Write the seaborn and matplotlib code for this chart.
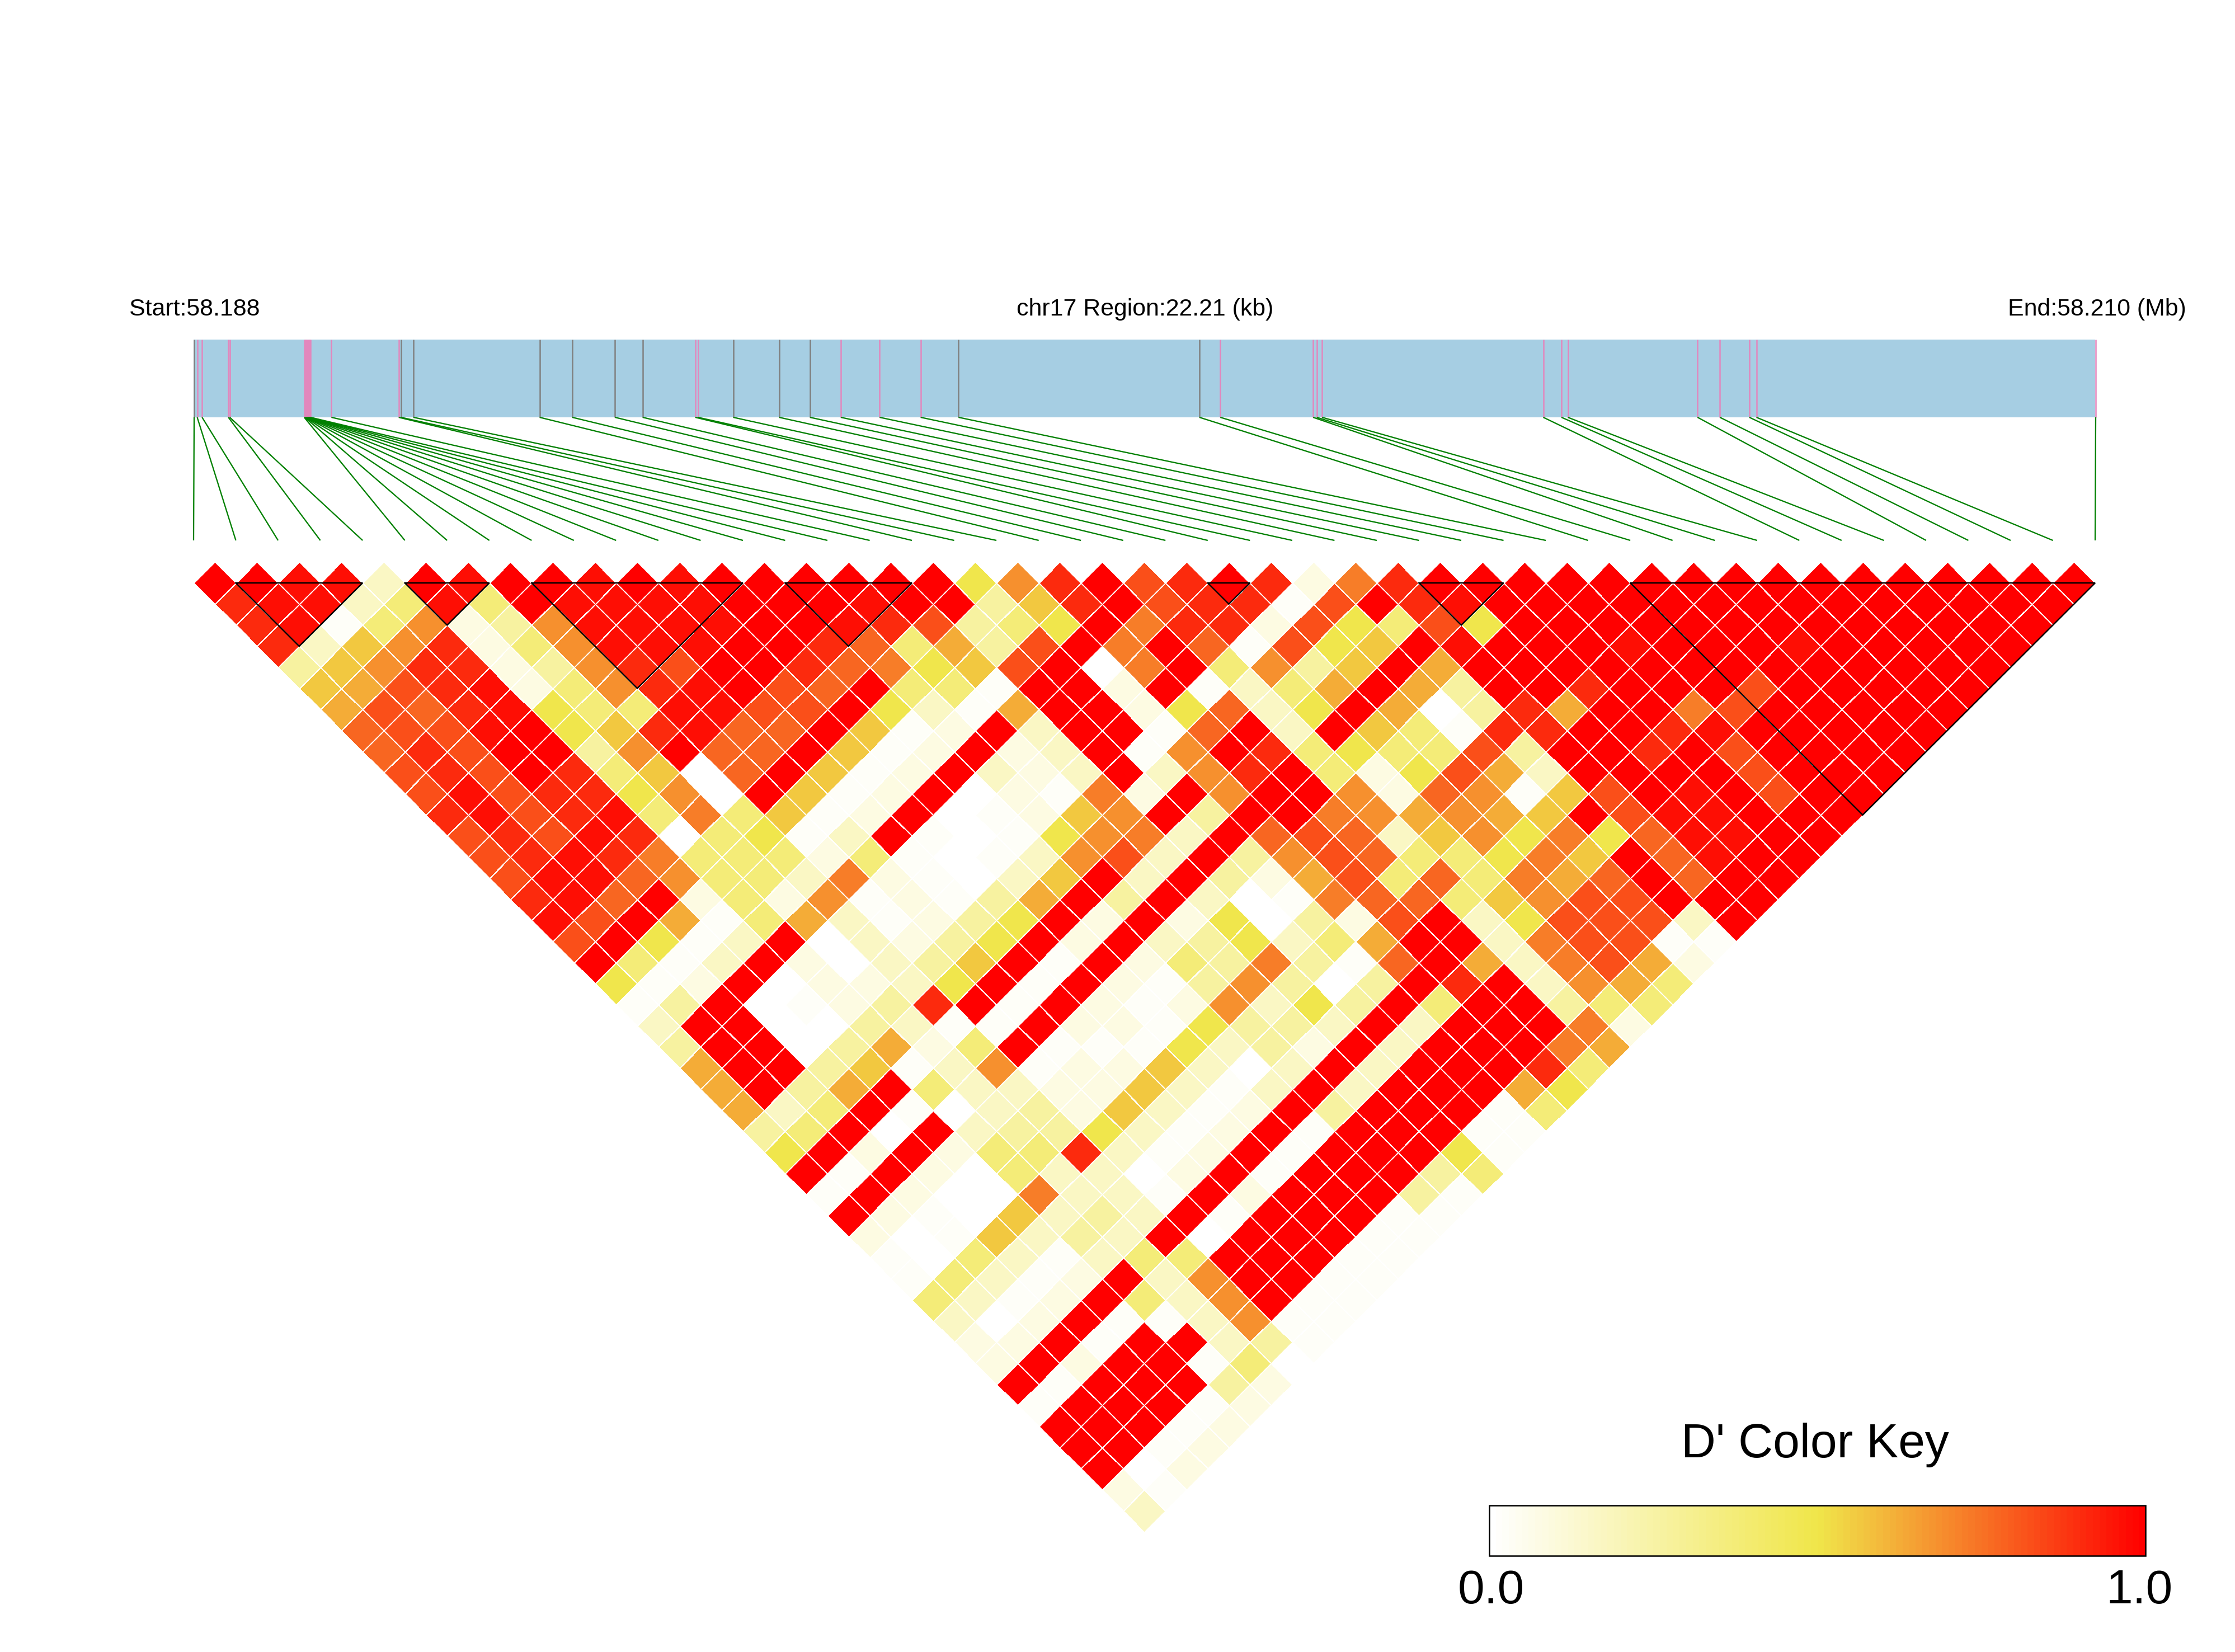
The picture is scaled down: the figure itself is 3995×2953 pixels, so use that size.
# LD heatmap of chr17 region, D' values
import numpy as np
import matplotlib
matplotlib.use('Agg')
import matplotlib.pyplot as plt
import seaborn as sns
from matplotlib.colors import LinearSegmentedColormap
from matplotlib.patches import Rectangle
from matplotlib.transforms import Affine2D

# SNP positions inside the region, in kb from the start
snp_kb = [0.000, 0.036, 0.093, 0.400, 0.416, 1.286, 1.293, 1.300, 1.308, 1.315, 1.322, 1.330,
          1.337, 1.344, 1.352, 1.359, 1.604, 2.390, 2.416, 2.562, 4.036, 4.417, 4.916, 5.239,
          5.854, 5.885, 6.297, 6.833, 7.193, 7.553, 8.007, 8.486, 8.929, 11.742, 11.986,
          13.070, 13.112, 13.174, 15.758, 15.971, 16.045, 17.560, 17.821, 18.165, 18.248, 22.210]
# g = grey tick, p = pink tick on the track
snp_kind = list('gppppppppppppppppp' 'gggggg' 'pp' 'ggg' 'ppp' 'gg' 'pppppppppppp')

# D' per colour step
code_value = {'R': 1.00, 'Q': 0.96, 'P': 0.90, 'O': 0.82, 'N': 0.77, 'M': 0.72, 'L': 0.68, 'K': 0.62,
              'J': 0.56, 'I': 0.49, 'H': 0.37, 'G': 0.26, 'F': 0.165, 'E': 0.08, 'D': 0.02, 'C': 0.005}

# one string per distance between SNPs (first = neighbours), left to right
dprime_rows = [
    'RRQQFRQRRQRQRRRRRRILPROPRPEMPRRRRRRRRRRRRRRRR',
    'PQQFHQHRQQQQRRRQRRGJPROPPDORPQRRRRRRRRRRRRRR',
    'PQDHLEGLQQQQRRQPOGHIRMPPEOIHOIRRRRRRRRRRRRR',
    'PFJLPEHLQQQRRPNHKGORMRNDOIJRQRRRQRRRQRRRRR',
    'GJLPPEGLPORRPNMIJORCMRHLGJRKRRRRRRRRRRRRR',
    'JKOPQEHLPQRONRHHDRRERDFHKRKGRRPRRRORRRRR',
    'KONPQIHHQQOORIFDKRREINFIRKCGPKRRMORRRRR',
    'NOOQRIJPQNNRJDERFRRDNRFRJHDPPRRPQRRRRR',
    'NPORRGLRNNRJDEREFRDLRPHIHHOGRRPRORRRR',
    'OPORPHJCNRJDERFEFRFLPRHEIOKFRRRRORRR',
    'OQOPPILCRJDERCEDMERLRRLENLDJORQRORR',
    'PQOPQHMHJDERCDEJLRGRRMLKLKJROQQRRR',
    'OPOQPCHIDFRDCDILMFRNONFJLIMINQQRR',
    'OPQPMHHHEHDCDFLOFRGLONHHIMJRNQRR',
    'OQQNLHHFMEDCFJRFRGEKOHNHMKNRNRR',
    'PQNREHELDEDGKRGRFCDMNNHJLOORRR',
    'QORKDHKFDEGIREREICGEORFIOOOFR',
    'ORIDFRCFEGIRERFGIFHKRRFMOODD',
    'RHDFRECFGJRDREHGMGDNRKFMOKE',
    'IDERCEEFIRDREDGLGCGRPRFLKH',
    'DGRCDEGPRDREDELFIGRHRRGHH',
    'FRRCCGFDDREEDIGGFRFRRRME',
    'GRRCGKEHRDDDIFGERFRRRMK',
    'KRRGJDFLDEEJFCFRFRRRPH',
    'KRGKRHFFEEJFDFRFRRRKI',
    'KFHRDCFGEJFDERGRRRDH',
    'GHRCRFGGIFDERDRRRDD',
    'IREREHHPFDERDRRRID',
    'RDRECHFFCERDRRRGH',
    'DRECCMFFDRERRRGD',
    'REDCJFGFRDRRRDD',
    'ECDJFGFRCRRRDD',
    'DCHFDFHHRRRDD',
    'DHFDERFLRRDD',
    'HFDERHFLRDD',
    'FCERDDFLDD',
    'EERDRRFGD',
    'ERERRDHC',
    'RDRRRGE',
    'DRRRDE',
    'RRRDE',
    'RRDE',
    'RCE',
    'ED',
    'F',
]

# LD blocks as (first SNP, last SNP)
ld_blocks = [(1, 4), (5, 7), (8, 13), (14, 17), (24, 25), (29, 31), (34, 45)]

region_kb = 22.21
n_snp = len(snp_kb)

# figure layout in pixels
W, H = 3995, 2953
left, right = 346, 3745
track_top, track_bottom = 607, 746
link_bottom = 966
tri_top = 1042
half_w = (right - left) / (n_snp - 1) / 2
half_h = 37.7

sns.set_theme(style='white')
plt.rcParams['font.family'] = ['Liberation Sans', 'DejaVu Sans']

# rows to an upper triangular matrix
dprime = np.full((n_snp - 1, n_snp - 1), np.nan)
for k, row in enumerate(dprime_rows):
    for m, code in enumerate(row):
        dprime[m, m + k] = code_value[code]

ld_cmap = LinearSegmentedColormap.from_list('ld', ['#ffffff', '#f0e64a', '#ff0000'], N=100)

fig = plt.figure(figsize=(W / 300, H / 300), dpi=300)
ax = fig.add_axes([0, 0, 1, 1])
key_ax = fig.add_axes([2662 / W, 1 - 2781 / H, (3835 - 2662) / W, 90 / H])

sns.heatmap(dprime, mask=np.isnan(dprime), cmap=ld_cmap, vmin=0, vmax=1, linewidths=0.22, linecolor='white',
            xticklabels=False, yticklabels=False, ax=ax, cbar=True, cbar_ax=key_ax,
            cbar_kws={'orientation': 'horizontal', 'ticks': []})

# turn the matrix 45 degrees so it hangs under the track
mesh = ax.collections[0]
mesh.set_transform(Affine2D.from_values(half_w, half_h, half_w, -half_h, left, tri_top) + ax.transData)
ax.set_xlim(0, W)
ax.set_ylim(H, 0)
ax.axis('off')

# frame of the colour key
mesh.colorbar.outline.set_linewidth(0.6)
mesh.colorbar.outline.set_edgecolor('black')

# gene track
ax.add_patch(Rectangle((left, track_top), right - left, track_bottom - track_top, color='#a6cee3', lw=0))
snp_x = [left + v / region_kb * (right - left) for v in snp_kb]
tick_x = [x + 1 for x in snp_x]
tick_colors = ['#808080' if c == 'g' else '#e287bd' for c in snp_kind]
ax.vlines(tick_x, track_top, track_bottom, colors=tick_colors, linewidth=0.6)

# lines from track to the SNP slots of the triangle
for i, x in enumerate(tick_x):
    ax.plot([x, left + i * 2 * half_w], [track_bottom, link_bottom], color='#008000', lw=0.55,
            solid_capstyle='butt')

# black outlines of the LD blocks
for a, b in ld_blocks:
    xa = left + a * 2 * half_w
    xb = left + b * 2 * half_w
    ax.plot([xa, xb, (xa + xb) / 2, xa], [tri_top, tri_top, tri_top + (b - a) * half_h, tri_top],
            color='black', lw=0.6, solid_joinstyle='miter')

# labels
ax.text(348, 564, 'Start:58.188', ha='center', va='baseline', fontsize=10.3, color='black')
ax.text(2047, 564, 'chr17 Region:22.21 (kb)', ha='center', va='baseline', fontsize=10.3, color='black')
ax.text(3748, 564, 'End:58.210 (Mb)', ha='center', va='baseline', fontsize=10.3, color='black')
ax.text(3244, 2605, "D' Color Key", ha='center', va='baseline', fontsize=20.6, color='black')
ax.text(2665, 2866, '0.0', ha='center', va='baseline', fontsize=20.6, color='black')
ax.text(3824, 2866, '1.0', ha='center', va='baseline', fontsize=20.6, color='black')

fig.savefig('out.png', dpi=300, facecolor='white')
